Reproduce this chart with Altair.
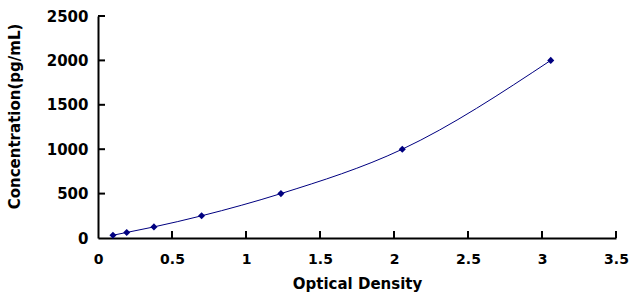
import altair as alt
import pandas as pd

# Data
od = [0.101, 0.194, 0.378, 0.700, 1.236, 2.056, 3.059]
conc = [31.25, 62.5, 125, 250, 500, 1000, 2000]
x_ticks = [0.5, 1.0, 1.5, 2.0, 2.5, 3.0, 3.5]
y_ticks = [500, 1000, 1500, 2000, 2500]
x_labels = [0, 0.5, 1.0, 1.5, 2.0, 2.5, 3.0, 3.5]
y_labels = [0, 500, 1000, 1500, 2000, 2500]

W, H = 518, 222
FONT = "DejaVu Sans"
NAVY = "#000080"

df = pd.DataFrame({"od": od, "conc": conc})
xt = pd.DataFrame({"od": x_ticks})
yt = pd.DataFrame({"conc": y_ticks})

xs = alt.Scale(domain=[0, 3.5], nice=False, zero=False)
ys = alt.Scale(domain=[0, 2500], nice=False, zero=False)

xaxis = alt.Axis(
    values=x_labels, format="~r", title="Optical Density", ticks=False, grid=False,
    domainColor="black", domainWidth=2, labelFont=FONT, labelFontWeight="bold",
    labelFontSize=14, labelColor="black", labelPadding=14, labelFlush=False,
    labelOverlap=False, titleFont=FONT, titleFontWeight="bold", titleFontSize=15,
    titleColor="black", titlePadding=10,
)
yaxis = alt.Axis(
    values=y_labels, format="d", title="Concentration(pg/mL)", ticks=False, grid=False,
    domainColor="black", domainWidth=2, labelFont=FONT, labelFontWeight="bold",
    labelFontSize=15, labelColor="black", labelPadding=10, labelFlush=False,
    labelOverlap=False, titleFont=FONT, titleFontWeight="bold", titleFontSize=15,
    titleColor="black", titleX=-76, titleY=100,
)

X = alt.X("od:Q", scale=xs, axis=xaxis)
Y = alt.Y("conc:Q", scale=ys, axis=yaxis)

line = alt.Chart(df).mark_line(color=NAVY, strokeWidth=1, interpolate="monotone").encode(x=X, y=Y)
pts = alt.Chart(df).mark_point(shape="diamond", filled=True, color=NAVY, size=50, opacity=1).encode(x=X, y=Y)
xtick = alt.Chart(xt).mark_rule(color="black", strokeWidth=2).encode(
    x=X, y=alt.value(H), y2=alt.value(H - 7),
)
ytick = alt.Chart(yt).mark_rule(color="black", strokeWidth=2).encode(
    y=Y, x=alt.value(0), x2=alt.value(7),
)

chart = alt.layer(line, xtick, ytick, pts).properties(
    width=W, height=H,
    autosize=alt.AutoSizeParams(type="none"),
    padding={"left": 98, "top": 16, "right": 21, "bottom": 64},
    background="white",
).configure_view(stroke=None)

chart.save("out.html", embed_options={"renderer": "svg", "actions": False})
